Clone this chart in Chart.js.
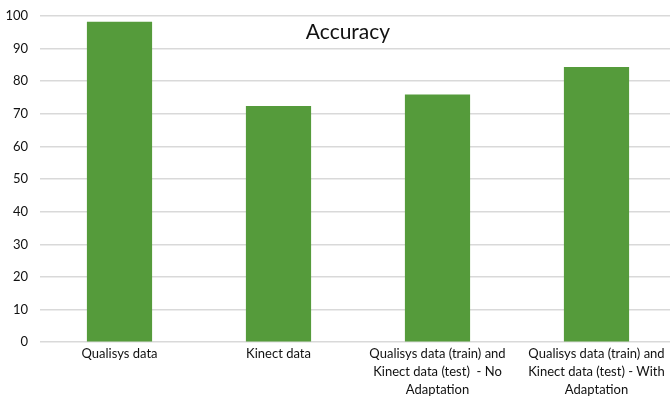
<!DOCTYPE html>
<html>
<head>
<meta charset="utf-8">
<script src="https://cdn.jsdelivr.net/npm/chart.js@4/dist/chart.umd.min.js"></script>
<style>
html,body{margin:0;padding:0;background:#fff;overflow:hidden;}
#wrap{position:relative;width:680px;height:403px;}
</style>
</head>
<body>
<div id="wrap"><canvas id="c"></canvas></div>
<script>
const categories = [
  ["Qualisys data"],
  ["Kinect data"],
  ["Qualisys data (train) and", "Kinect data (test)  - No", "Adaptation"],
  ["Qualisys data (train) and", "Kinect data (test) - With", "Adaptation"]
];
const accuracy = [98.2, 72.4, 75.9, 84.4];
const yTicks = [0, 10, 20, 30, 40, 50, 60, 70, 80, 90, 100];
const chartTitle = "Accuracy";

const FONT = "Lato, 'Open Sans', sans-serif";

const titlePlugin = {
  id: 'innerTitle',
  afterDraw(chart) {
    const {ctx, chartArea} = chart;
    ctx.save();
    ctx.font = "21px " + FONT;
    ctx.fillStyle = "#111";
    ctx.textAlign = "center";
    ctx.textBaseline = "middle";
    ctx.fillText(chartTitle, (chartArea.left + chartArea.right) / 2 - 10, chartArea.top + 16);
    ctx.restore();
  }
};

new Chart(document.getElementById('c'), {
  type: 'bar',
  data: {
    labels: categories,
    datasets: [{
      label: chartTitle,
      data: accuracy,
      backgroundColor: '#559b3b',
      borderWidth: 0,
      categoryPercentage: 1,
      barPercentage: 0.41
    }]
  },
  options: {
    responsive: true,
    maintainAspectRatio: false,
    animation: false,
    layout: { padding: { left: 0, right: 4, top: 16, bottom: 1 } },
    plugins: {
      legend: { display: false },
      title: { display: false },
      tooltip: { enabled: false }
    },
    scales: {
      x: {
        grid: { display: false, drawTicks: false },
        border: { display: false },
        ticks: {
          color: '#111',
          font: { family: FONT, size: 13, lineHeight: 1.38 },
          padding: 3,
          maxRotation: 0,
          autoSkip: false
        }
      },
      y: {
        min: 0,
        max: 100,
        afterBuildTicks(axis) { axis.ticks = yTicks.map(v => ({ value: v })); },
        afterFit(axis) { axis.width = 40; axis.paddingTop = 0; axis.paddingBottom = 0; },
        grid: { color: '#d9d9d9', lineWidth: 1.5, drawTicks: false },
        border: { display: false },
        ticks: {
          color: '#111',
          font: { family: FONT, size: 13 },
          padding: 12
        }
      }
    }
  },
  plugins: [titlePlugin]
});
</script>
</body>
</html>
